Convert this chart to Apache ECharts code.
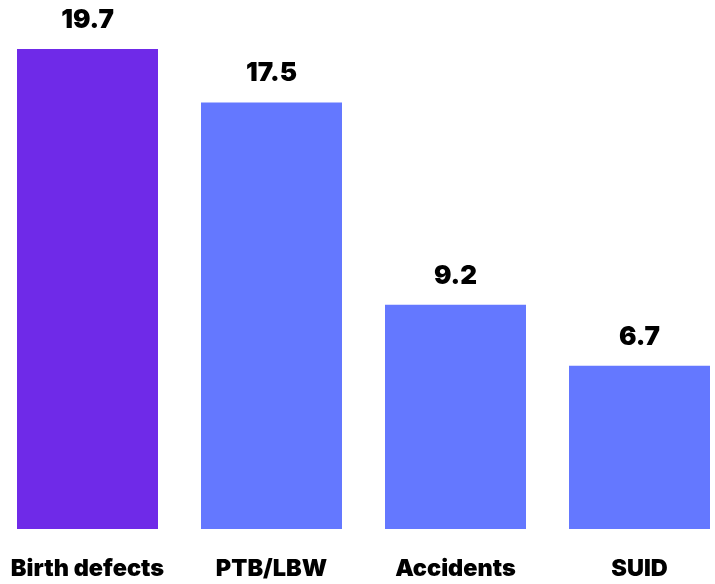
<!DOCTYPE html>
<html>
<head>
<meta charset="utf-8">
<script src="https://cdn.jsdelivr.net/npm/echarts@6/dist/echarts.min.js"></script>
<style>
  html, body { margin: 0; padding: 0; background: #fff; }
  #chart { width: 715px; height: 584px; }
</style>
</head>
<body>
<div id="chart"></div>
<script>
  // causes of infant death, rate per 10,000
  const categories = ['Birth defects', 'PTB/LBW', 'Accidents', 'SUID'];
  const values = [19.7, 17.5, 9.2, 6.7];
  const barColors = ['#6f2ae8', '#6478ff', '#6478ff', '#6478ff'];

  const chart = echarts.init(document.getElementById('chart'));

  chart.setOption({
    animation: false,
    grid: { left: -4.5, width: 736, top: 49, bottom: 55, outerBoundsMode: 'none' },
    xAxis: {
      type: 'category',
      data: categories,
      axisLine: { show: false },
      axisTick: { show: false },
      axisLabel: {
        interval: 0,
        margin: 28,
        fontFamily: 'Inter',
        fontWeight: 900,
        fontSize: 23.5,
        color: '#000'
      }
    },
    yAxis: {
      type: 'value',
      min: 0,
      max: 19.7,
      show: false,
      splitLine: { show: false }
    },
    series: [{
      type: 'bar',
      barWidth: 141,
      data: values.map((v, i) => ({ value: v, itemStyle: { color: barColors[i] } })),
      label: {
        show: true,
        position: 'top',
        distance: 16,
        fontFamily: 'Inter',
        fontWeight: 900,
        fontSize: 26,
        color: '#000',
        formatter: p => p.value.toFixed(1)
      }
    }]
  });
</script>
</body>
</html>
